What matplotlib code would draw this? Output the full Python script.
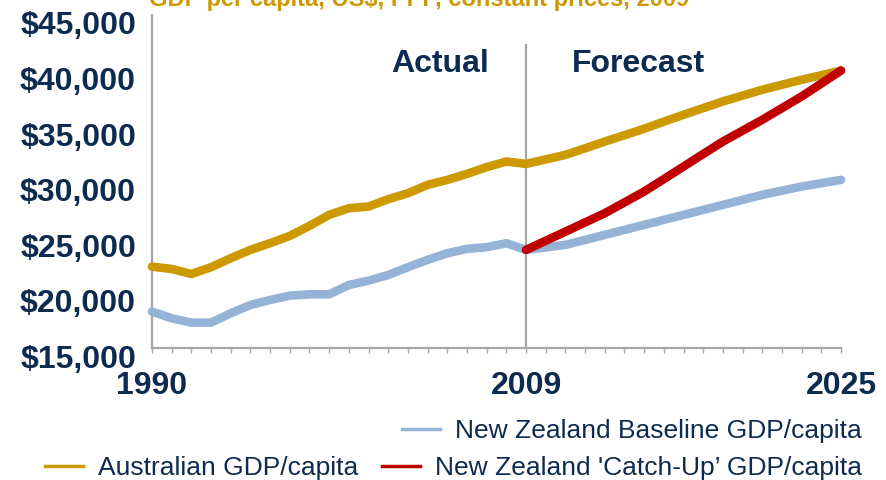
import matplotlib
matplotlib.use("Agg")
import matplotlib.pyplot as plt
import matplotlib.transforms as mtransforms
from matplotlib.lines import Line2D

# -------------------------------
# Data
# -------------------------------

years = list(range(1990, 2026))
forecast_years = list(range(2009, 2026))

australia = [22350, 22140, 21690, 22300, 23110, 23860, 24460, 25120, 26020, 27010,
             27610, 27760, 28420, 28960, 29710, 30160, 30700, 31310, 31810, 31600,
             32000, 32410, 33000, 33610, 34180, 34760, 35400, 36020, 36620, 37220,
             37750, 38270, 38720, 39170, 39580, 40000]

nz_baseline = [18300, 17700, 17310, 17310, 18150, 18900, 19350, 19740, 19860, 19860,
               20700, 21090, 21600, 22300, 22960, 23560, 23950, 24100, 24460, 23860,
               24080, 24310, 24760, 25210, 25660, 26110, 26560, 27010, 27460, 27910,
               28360, 28810, 29190, 29560, 29860, 30160]

nz_catchup = [23860, 24680, 25500, 26330, 27160, 28130, 29110, 30230, 31360, 32490,
              33610, 34590, 35570, 36620, 37670, 38830, 40000]

x_ticks = [1990, 2009, 2025]
y_ticks = [15000, 20000, 25000, 30000, 35000, 40000, 45000]

title = "GDP per capita, US$, PPP, constant prices, 2009"

# -------------------------------
# Style
# -------------------------------

navy = "#0D2B50"
gold = "#CC9900"
blue = "#95B3D7"
red = "#C00000"
grey = "#A6A6A6"

plt.rcParams["font.family"] = ["Liberation Sans", "DejaVu Sans"]

W, H = 886, 480
fig = plt.figure(figsize=(W / 100, H / 100), dpi=100)
ax = fig.add_axes([152 / W, 1 - 348.3 / H, (841 - 152) / W, (348.3 - 15) / H])

lw = 6.2
ax.plot(years, nz_baseline, color=blue, lw=lw, solid_capstyle="round",
        solid_joinstyle="round", clip_on=False, zorder=3)
ax.plot(years, australia, color=gold, lw=lw, solid_capstyle="round",
        solid_joinstyle="round", clip_on=False, zorder=4)
ax.plot(forecast_years, nz_catchup, color=red, lw=lw, solid_capstyle="round",
        solid_joinstyle="round", clip_on=False, zorder=5)

ax.axvline(2009, ymin=0, ymax=(42300 - 15000) / 30000, color=grey, lw=1.6, zorder=2)

ax.set_xlim(1990, 2025)
ax.set_ylim(15000, 45000)

# axes and ticks
for side in ["top", "right"]:
    ax.spines[side].set_visible(False)
for side in ["left", "bottom"]:
    ax.spines[side].set_color(grey)
    ax.spines[side].set_linewidth(1.6)

ax.set_xticks(x_ticks)
ax.set_xticks(years, minor=True)
ax.set_xticklabels([str(y) for y in x_ticks])
ax.tick_params(axis="x", which="both", direction="out", length=3.6, width=1,
               color=grey)
ax.tick_params(axis="x", which="major", pad=13, labelsize=23, labelcolor=navy)

ax.set_yticks(y_ticks)
ax.set_yticklabels([f"${v:,}" for v in y_ticks])
ax.tick_params(axis="y", length=0, pad=11.5, labelsize=23, labelcolor=navy)

for lab in ax.get_xticklabels() + ax.get_yticklabels():
    lab.set_fontweight("bold")

shift = mtransforms.ScaledTranslation(0, -8 / 100, fig.dpi_scale_trans)
for lab in ax.get_yticklabels():
    lab.set_transform(lab.get_transform() + shift)

# Actual / Forecast labels
fig.text(440 / W, 1 - 64 / H, "Actual", ha="center", va="center",
         fontsize=23, fontweight="bold", color=navy)
fig.text(638 / W, 1 - 64 / H, "Forecast", ha="center", va="center",
         fontsize=23, fontweight="bold", color=navy)

# title (cut off at the top in the reference)
fig.text(419 / W, 1 - 6 / H, title, ha="center", va="baseline",
         fontsize=17, fontweight="bold", color=gold)

# -------------------------------
# Legend
# -------------------------------

h_base = Line2D([], [], color=blue, lw=2.5)
h_aus = Line2D([], [], color=gold, lw=2.5)
h_red = Line2D([], [], color=red, lw=2.5)

leg_kw = dict(frameon=False, fontsize=19, handlelength=1.44, handletextpad=0.57,
              borderpad=0, borderaxespad=0, labelcolor=navy)

leg1 = fig.legend([h_base], ["New Zealand Baseline GDP/capita"],
                  loc="center left", bbox_to_anchor=(402 / W, 1 - 431 / H), **leg_kw)
leg2 = fig.legend([h_aus, h_red],
                  ["Australian GDP/capita", "New Zealand 'Catch-Up\u2019 GDP/capita"],
                  loc="center left", bbox_to_anchor=(45 / W, 1 - 468 / H),
                  ncol=2, columnspacing=0.9, **leg_kw)

fig.savefig("out.png", dpi=100)
